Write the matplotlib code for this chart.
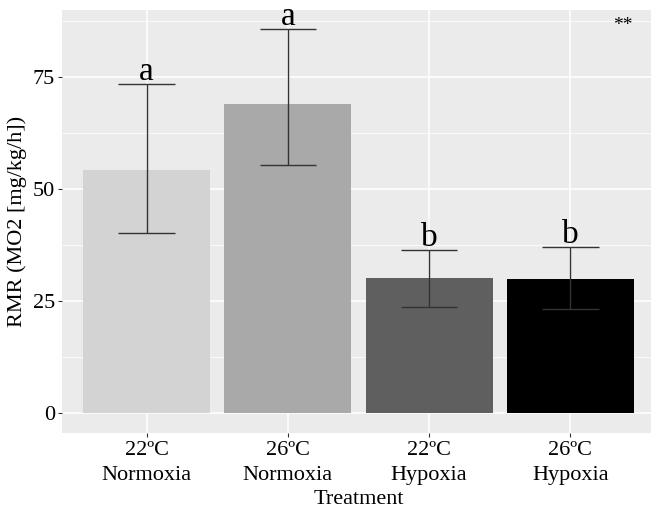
import matplotlib
matplotlib.use("Agg")
import matplotlib.pyplot as plt
from matplotlib.ticker import MultipleLocator

plt.rcParams['font.family'] = ['Liberation Serif', 'DejaVu Serif']

categories = ["22ºC\nNormoxia", "26ºC\nNormoxia", "22ºC\nHypoxia", "26ºC\nHypoxia"]
means = [54.2, 69.0, 30.2, 30.0]
upper = [73.5, 85.7, 36.4, 37.0]
lower = [40.2, 55.4, 23.7, 23.3]
letters = ["a", "a", "b", "b"]
colors = ["#d3d3d3", "#a9a9a9", "#5f5f5f", "#000000"]

fig = plt.figure(figsize=(6.51, 5.11), dpi=100)
ax = fig.add_axes([62/651, 78/511, 593/651, 423/511])
ax.set_facecolor("#ebebeb")

x = list(range(len(categories)))
ax.bar(x, means, width=0.9, color=colors, zorder=2)
ax.vlines(x, lower, upper, color="#333333", lw=1.0, zorder=3)
ax.hlines(upper, [i - 0.2 for i in x], [i + 0.2 for i in x], color="#333333", lw=1.0, zorder=3)
ax.hlines(lower, [i - 0.2 for i in x], [i + 0.2 for i in x], color="#333333", lw=1.0, zorder=3)
for i, (u, t) in enumerate(zip(upper, letters)):
    ax.text(i, u + 0.9, t, ha="center", va="baseline", fontsize=24, zorder=4, clip_on=False)

ax.text(3.37, 86.5, "**", ha="center", va="center", fontsize=14)

ax.set_xlim(-0.6, 3.6)
ax.set_ylim(-4.5, 90)
ax.yaxis.set_major_locator(MultipleLocator(25))
ax.yaxis.set_minor_locator(MultipleLocator(12.5))
ax.set_xticks(x)
ax.set_xticklabels(categories, fontsize=16, linespacing=1.4)
ax.tick_params(axis="y", labelsize=16, length=3, color="#333333", pad=2)
ax.tick_params(axis="x", length=3, color="#333333", pad=3)
ax.tick_params(axis="y", which="minor", length=0)
ax.grid(which="major", color="white", lw=1.1, zorder=0)
ax.grid(which="minor", axis="y", color="white", lw=0.55, zorder=0)
ax.set_axisbelow(True)
for s in ax.spines.values():
    s.set_visible(False)

ax.set_xlabel("Treatment", fontsize=16, labelpad=4)
ax.set_ylabel("RMR (MO2 [mg/kg/h])", fontsize=16, labelpad=4)

fig.savefig("out.png", dpi=100)
